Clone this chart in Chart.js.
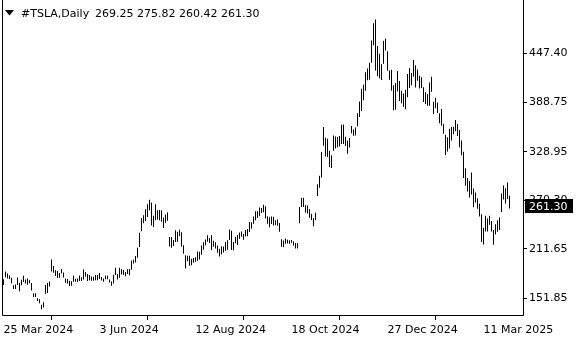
<!DOCTYPE html>
<html>
<head>
<meta charset="utf-8">
<title>#TSLA,Daily</title>
<script src="https://cdn.jsdelivr.net/npm/chart.js@4.4.1/dist/chart.umd.min.js"></script>
<style>
  html, body { margin: 0; padding: 0; background: #fff; }
  canvas { display: block; }
</style>
</head>
<body>
<canvas id="chart" width="580" height="340"></canvas>
<script>
// Daily bars, 25 Mar 2024 .. 28 Mar 2025 (one entry per trading day)
const symbol = '#TSLA,Daily';

const highs = [
  175.2, 184.3, 181.9, 179.6,
  176.8, 167.7, 168.8, 177.2, 170.9, 174.5, 179.2, 174.9, 175.9, 173.8,
  170.7, 158.2, 158.3, 152.2, 150.9, 144.4, 147.3, 168.0, 170.9, 172.1, 198.9, 191.0,
  185.9, 185.1, 182.7, 187.5, 183.3, 176.1, 175.4, 173.2, 172.6, 179.5, 175.8, 176.1, 179.6, 177.5, 186.9, 183.8, 181.3, 180.1, 178.3, 178.1, 180.3, 180.3,
  182.6, 177.8, 176.1, 179.7, 179.3, 174.9, 172.4, 180.5, 188.8, 181.4, 188.8, 187.2, 186.1, 183.9, 187.2, 187.4, 197.7, 198.7, 203.2,
  213.2, 231.3, 249.0, 252.4, 259.4, 265.6, 271.0, 267.6, 251.8, 265.6, 258.4, 258.5, 258.2, 249.4, 253.2, 255.8, 226.0, 226.0, 222.3, 234.3, 232.4, 234.7,
  231.9, 216.1, 203.9, 203.5, 203.5, 199.9, 200.7, 201.6, 208.5, 208.4, 215.9, 219.8, 222.9, 228.2, 224.7, 228.3, 221.5, 219.8, 215.7, 211.8, 214.9, 214.6,
  219.9, 222.2, 235.0, 233.6, 219.9, 226.4, 228.5, 231.4, 232.7, 229.9, 234.6, 235.7, 244.2, 243.9, 250.9, 257.2, 257.1, 261.7, 261.0, 264.9,
  263.0, 251.2, 249.8, 250.9, 250.4, 246.2, 247.4, 242.8, 223.3, 221.9, 224.3, 222.8, 222.1, 222.3, 220.5, 218.7, 218.7, 262.1, 273.5, 273.5, 264.6, 263.9, 259.7,
  254.0, 248.9, 255.3, 289.6, 299.8, 328.7, 358.6, 345.8, 344.6, 330.0, 324.7, 348.6, 347.4, 346.6, 348.0, 361.5, 361.9, 347.0, 342.6, 345.4,
  360.0, 355.7, 358.1, 375.4, 389.5, 404.8, 409.7, 424.9, 429.3, 436.3, 463.2, 484.0, 488.5, 456.4, 447.1, 434.5, 462.8, 465.3, 450.0, 427.0, 427.9,
  409.1, 411.9, 426.4, 414.3, 402.5, 399.3, 403.8, 422.6, 429.8, 424.0, 439.7, 433.2, 428.0, 420.7, 418.9, 406.7, 400.6, 398.6, 412.5, 419.3,
  389.2, 394.0, 388.4, 375.4, 380.5, 362.7, 349.4, 346.4, 356.7, 358.7, 359.1, 367.3, 362.3, 355.0, 342.4, 328.9, 309.0, 297.2, 293.9,
  303.9, 284.4, 279.6, 272.7, 266.3, 253.4, 237.1, 251.8, 248.3, 251.6, 245.4, 234.5, 241.4, 246.2, 249.5, 278.6, 288.2, 284.9, 291.9, 275.82
];

const lows = [
  168.2, 177.4, 176.0, 175.3,
  170.2, 163.4, 163.3, 168.0, 160.5, 167.8, 171.9, 170.0, 168.5, 170.4,
  161.4, 153.8, 153.8, 148.7, 146.2, 138.8, 141.1, 157.5, 158.4, 166.4, 184.5, 182.8,
  179.0, 176.6, 177.0, 182.1, 177.2, 170.8, 170.0, 167.0, 167.3, 172.2, 172.1, 172.2, 173.0, 173.0, 174.7, 178.0, 173.0, 173.8, 173.2, 173.2, 173.8, 173.8,
  175.5, 173.5, 172.1, 175.0, 175.0, 171.2, 167.1, 169.8, 180.3, 174.8, 177.0, 180.8, 180.4, 178.6, 181.3, 180.0, 186.4, 194.0, 195.3,
  200.9, 214.0, 233.0, 242.5, 245.3, 250.3, 258.4, 240.0, 238.0, 246.1, 247.2, 246.3, 244.4, 236.8, 243.2, 245.6, 214.7, 213.0, 215.3, 220.0, 220.3, 226.8,
  214.3, 205.7, 188.0, 196.7, 191.5, 192.1, 195.0, 196.2, 197.3, 198.8, 204.5, 210.8, 216.2, 220.4, 218.9, 210.4, 214.2, 212.1, 206.9, 202.6, 205.0, 207.3,
  209.6, 210.6, 222.3, 210.5, 210.2, 218.6, 216.5, 223.8, 226.3, 222.7, 226.6, 226.9, 232.1, 235.9, 241.9, 246.2, 249.1, 251.0, 255.0, 255.8,
  248.5, 241.9, 237.8, 241.8, 240.0, 240.6, 239.5, 232.3, 214.4, 213.7, 217.9, 218.3, 217.9, 219.2, 215.7, 212.1, 212.1, 242.7, 262.2, 262.2, 255.5, 254.5, 249.3,
  246.7, 238.9, 246.2, 275.6, 285.5, 297.7, 336.0, 323.3, 322.5, 310.4, 309.2, 330.0, 332.8, 334.3, 335.3, 338.2, 338.2, 335.7, 326.6, 334.1,
  351.2, 348.2, 348.6, 359.5, 370.8, 378.0, 390.9, 402.4, 415.0, 415.7, 436.1, 457.5, 427.0, 420.0, 417.6, 415.4, 435.1, 451.0, 426.5, 415.8, 402.5,
  378.9, 379.5, 401.7, 390.0, 387.4, 382.8, 380.1, 394.5, 405.7, 409.1, 419.8, 406.3, 414.6, 405.3, 405.8, 389.0, 386.5, 384.5, 384.4, 401.2,
  374.4, 381.4, 375.5, 363.2, 360.3, 350.5, 325.1, 329.1, 332.9, 342.6, 350.0, 353.7, 348.0, 334.4, 324.7, 297.3, 288.0, 280.9, 273.6,
  277.3, 261.8, 267.7, 260.0, 250.7, 220.0, 217.0, 232.6, 232.6, 240.7, 232.8, 216.6, 229.2, 232.4, 234.6, 256.3, 271.3, 266.5, 271.8, 260.42
];

// last bar open/close shown in the header
const lastOpen = 269.25;
const lastClose = 261.30;

const priceTicks = [151.85, 211.65, 270.30, 328.95, 388.75, 447.40];
const dateTickIndex = [0, 48, 96, 144, 192, 240];
const dateTickLabels = ['25 Mar 2024', '3 Jun 2024', '12 Aug 2024', '18 Oct 2024', '27 Dec 2024', '11 Mar 2025'];

const FONT = { family: 'DejaVu Sans', size: 11 };

const bars = highs.map((h, i) => ({ x: i, y: [lows[i], h] }));

// frame, header line and the current price label (MT4 style)
const terminalDecor = {
  id: 'terminalDecor',
  afterDraw(chart) {
    const ctx = chart.ctx;
    const a = chart.chartArea;
    ctx.save();
    ctx.strokeStyle = '#000';
    ctx.lineWidth = 1;
    ctx.beginPath();
    ctx.moveTo(a.left + 0.5, 0);
    ctx.lineTo(a.left + 0.5, a.bottom + 0.5);
    ctx.lineTo(a.right + 0.5, a.bottom + 0.5);
    ctx.lineTo(a.right + 0.5, 0);
    ctx.stroke();

    // header
    ctx.fillStyle = '#000';
    ctx.beginPath();
    ctx.moveTo(5, 10);
    ctx.lineTo(14, 10);
    ctx.lineTo(9.5, 15.5);
    ctx.closePath();
    ctx.fill();
    ctx.font = '11px "DejaVu Sans"';
    ctx.textBaseline = 'alphabetic';
    ctx.textAlign = 'left';
    ctx.fillText(symbol, 21, 17);
    const last = highs.length - 1;
    const vals = [lastOpen, highs[last], lows[last], lastClose].map(v => v.toFixed(2)).join(' ');
    ctx.fillText(vals, 95, 17);

    // current price box
    const py = Math.round(chart.scales.y.getPixelForValue(lastClose));
    ctx.fillStyle = '#000';
    ctx.fillRect(a.right + 2, py - 9, 48, 14);
    ctx.fillStyle = '#fff';
    ctx.fillText(lastClose.toFixed(2), a.right + 6, py + 2);
    ctx.restore();
  }
};

new Chart(document.getElementById('chart'), {
  type: 'bar',
  data: {
    datasets: [{
      data: bars,
      backgroundColor: '#000',
      borderWidth: 0,
      barThickness: 1,
      inflateAmount: 0
    }]
  },
  options: {
    responsive: false,
    animation: false,
    devicePixelRatio: 1,
    layout: { padding: { left: 2, top: 0, right: 0, bottom: 0 } },
    plugins: { legend: { display: false }, tooltip: { enabled: false } },
    scales: {
      x: {
        type: 'linear',
        position: 'bottom',
        offset: false,
        bounds: 'data',
        min: -0.75,
        max: 259.75,
        afterBuildTicks: s => { s.ticks = dateTickIndex.map(v => ({ value: v })); },
        afterFit: s => { s.height = 25; s.paddingLeft = 0; s.paddingRight = 0; },
        grid: { drawOnChartArea: false, drawTicks: true, tickLength: 5, color: '#000' },
        border: { display: false },
        ticks: {
          autoSkip: false,
          maxRotation: 0,
          align: 'start',
          padding: 4,
          color: '#000',
          font: FONT,
          callback: v => dateTickLabels[dateTickIndex.indexOf(v)]
        }
      },
      y: {
        type: 'linear',
        position: 'right',
        bounds: 'data',
        min: 131.95,
        max: 511.94,
        afterBuildTicks: s => { s.ticks = priceTicks.map(v => ({ value: v })); },
        afterFit: s => { s.width = 57; s.paddingTop = 0; s.paddingBottom = 0; },
        grid: { drawOnChartArea: false, drawTicks: true, tickLength: 4, color: '#000' },
        border: { display: false },
        ticks: {
          padding: 2,
          color: '#000',
          font: FONT,
          callback: v => v.toFixed(2)
        }
      }
    }
  },
  plugins: [terminalDecor]
});
</script>
</body>
</html>
